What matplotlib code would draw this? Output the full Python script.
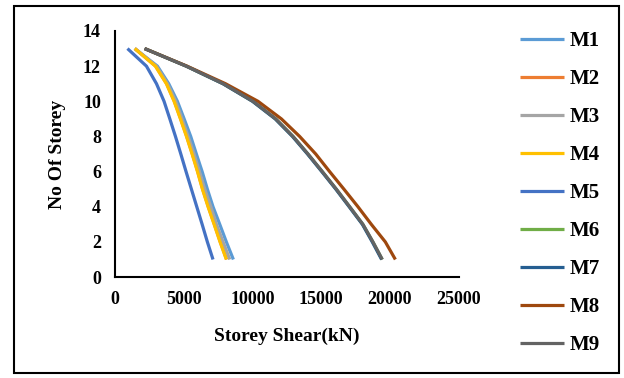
import numpy as np
import matplotlib
matplotlib.use('Agg')
from matplotlib import pyplot as plt
from matplotlib.patches import Rectangle

# storey numbers, bottom to top
storeys = list(range(1, 14))

# storey shear (kN) per model, storey 1 -> 13
m1 = [8620, 8110, 7630, 7140, 6730, 6350, 5930, 5520, 5040, 4550, 3920, 3100, 1450]
m2 = [8130, 7670, 7240, 6800, 6390, 6030, 5640, 5230, 4790, 4330, 3770, 2970, 1460]
m3 = [8360, 7870, 7390, 6980, 6540, 6150, 5760, 5330, 4890, 4430, 3830, 3030, 1450]
m4 = [8110, 7650, 7220, 6780, 6370, 6010, 5620, 5210, 4770, 4310, 3750, 2950, 1450]
m5 = [7140, 6730, 6350, 5960, 5570, 5180, 4800, 4410, 4000, 3580, 3030, 2300, 920]
m6 = [19440, 18760, 18030, 17070, 16100, 15080, 14040, 12950, 11690, 10040, 7880, 5200, 2170]
m7 = [19400, 18720, 18000, 17040, 16070, 15050, 14010, 12920, 11660, 10010, 7860, 5190, 2160]
m8 = [20400, 19670, 18650, 17680, 16660, 15620, 14610, 13440, 12110, 10410, 8050, 5250, 2170]
m9 = [19450, 18770, 18040, 17080, 16110, 15090, 14050, 12960, 11700, 10050, 7890, 5200, 2170]

labels = ['M1', 'M2', 'M3', 'M4', 'M5', 'M6', 'M7', 'M8', 'M9']
colors = ['#5B9BD5', '#ED7D31', '#A5A5A5', '#FFC000', '#4472C4',
          '#70AD47', '#255E91', '#9E480E', '#636363']
series = [m1, m2, m3, m4, m5, m6, m7, m8, m9]

plt.rcParams['font.family'] = ['Liberation Serif', 'DejaVu Serif']
plt.rcParams['font.weight'] = 'bold'

fig = plt.figure(figsize=(6.24, 3.78), dpi=100)
ax = fig.add_axes([0.184, 0.267, 0.551, 0.651])

for vals, lab, col in zip(series, labels, colors):
    ax.plot(vals, storeys, color=col, lw=2.3, label=lab,
            solid_capstyle='butt', solid_joinstyle='round')

ax.set_xlim(0, 25000)
ax.set_ylim(0, 14)
ax.set_xticks(np.arange(0, 25001, 5000))
ax.set_yticks(np.arange(0, 15, 2))
ax.tick_params(length=0, labelsize=13, pad=10)
for s in ['top', 'right']:
    ax.spines[s].set_visible(False)
for s in ['left', 'bottom']:
    ax.spines[s].set_linewidth(1.5)
    ax.spines[s].set_color('black')

ax.set_xlabel('Storey Shear(kN)', fontsize=14, fontweight='bold', labelpad=14)
ax.set_ylabel('No Of Storey', fontsize=14, fontweight='bold', labelpad=12)

fig.legend(loc='upper left', bbox_to_anchor=(0.834, 0.918), frameon=False,
           prop={'size': 15, 'weight': 'bold'}, handlelength=2.1,
           handletextpad=0.25, labelspacing=0.865, borderpad=0, borderaxespad=0)

fig.patches.append(Rectangle((14 / 624, 5 / 378), 605 / 624, 367 / 378,
                             transform=fig.transFigure, fill=False,
                             edgecolor='black', lw=1.5))

plt.savefig('out.png', dpi=100)
